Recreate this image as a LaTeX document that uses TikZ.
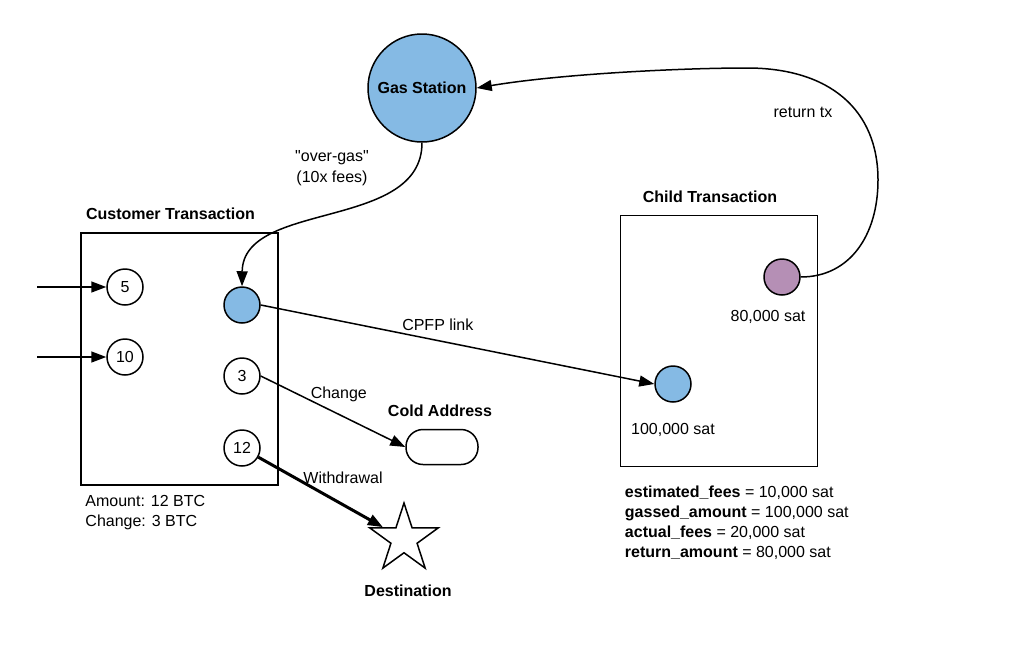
\documentclass[tikz,border=0pt]{standalone}
\usepackage{fontspec}
\setmainfont{Liberation Sans}
\usetikzlibrary{arrows.meta,positioning,shapes.geometric}
\definecolor{gsBlue}{RGB}{133,186,228}
\definecolor{gsPurple}{RGB}{181,143,181}
\definecolor{gsLine}{RGB}{0,0,0}

\begin{document}
\begin{tikzpicture}[
  x=1pt, y=-1pt,
  font=\fontsize{16}{20.3}\selectfont,
  node distance=12pt,
  txbox/.style={draw=gsLine, line width=1.5pt, minimum width=197pt, minimum height=252pt, inner sep=0pt},
  coin/.style={circle, draw=gsLine, line width=1.5pt, fill=white, minimum size=36pt, inner sep=0pt},
  heading/.style={font=\fontsize{16}{20.3}\selectfont\bfseries, inner sep=0pt},
  lbl/.style={inner sep=0pt, align=center},
  arr/.style={-{Triangle[length=15pt,width=11pt]}, line width=1.5pt, draw=gsLine}
]
\useasboundingbox (0,0) rectangle (1024,664);

% gas station
\node[coin, fill=gsBlue, minimum size=108pt, font=\fontsize{16}{20.3}\selectfont\bfseries] (gas) at (422,88) {Gas Station};

% customer transaction
\node[txbox] (cust) at (179.5,359) {};
\node[heading, above=12pt of cust, xshift=-9pt] (custTitle) {Customer Transaction};
\node[coin] (in5) at (125,287) {5};
\node[coin] (in10) at (125,357) {10};
\node[coin, fill=gsBlue] (gasOut) at (242,305) {};
\node[coin] (chg3) at (242,376) {3};
\node[coin] (wd12) at (242,448) {12};
\node[lbl, align=left, below right=9pt and 5pt of cust.south west] (custInfo) {Amount: 12 BTC\\Change: 3 BTC};
\coordinate (src5) at (37,287);
\coordinate (src10) at (37,357);

% child transaction
\node[txbox, minimum height=251pt] (child) at (719,341) {};
\node[heading, above=12pt of child, xshift=-9pt] (childTitle) {Child Transaction};
\node[coin, fill=gsPurple] (ret) at (782,277) {};
\node[lbl, below=14pt of ret, xshift=-14pt] (retAmt) {80,000 sat};
\node[coin, fill=gsBlue] (gasIn) at (673,384) {};
\node[lbl, below=20pt of gasIn] (gasInAmt) {100,000 sat};
\node[lbl, align=left, below right=18pt and 5pt of child.south west] (childInfo) {\textbf{estimated\_fees} = 10,000 sat\\
  \textbf{gassed\_amount} = 100,000 sat\\
  \textbf{actual\_fees} = 20,000 sat\\
  \textbf{return\_amount} = 80,000 sat};

% outputs
\node[draw=gsLine, line width=1.5pt, rounded corners=17pt, minimum width=72pt, minimum height=35pt] (cold) at (442,447) {};
\node[heading, above=12pt of cold, xshift=-2pt] (coldTitle) {Cold Address};
\node[star, star points=5, star point ratio=2.618, draw=gsLine, line width=1.5pt, minimum size=72pt, inner sep=0pt] (dest) at (404,539) {};
\node[heading, below=31pt of dest, xshift=4pt] (destTitle) {Destination};

% connectors
\draw[arr] (src5) -- (in5);
\draw[arr] (src10) -- (in10);
\draw[arr] (gasOut.east) -- node[lbl, pos=0.45, above=9pt] (cpfpLbl) {CPFP link} (gasIn.west);
\draw[arr] (chg3.east) -- node[lbl, pos=0.54, above=12pt] (chgLbl) {Change} (cold.west);
\draw[arr, line width=3pt] (wd12) -- node[lbl, pos=0.68, above=20pt] (wdLbl) {Withdrawal} (dest);
\draw[arr] (gas.south) .. controls (422,231) and (243,200) .. (gasOut.north);
\draw[arr] (ret.east) .. controls (850,277) and (878,235) .. (878,180)
  .. controls (878,110) and (830,68) .. (747,68)
  .. controls (680,68) and (560,74) .. (gas.east);
\node[lbl] (overGasLbl) at (332,168) {\textquotedbl over-gas\textquotedbl\\(10x fees)};
\node[lbl] (retLbl) at (803,112) {return tx};
\end{tikzpicture}
\end{document}
